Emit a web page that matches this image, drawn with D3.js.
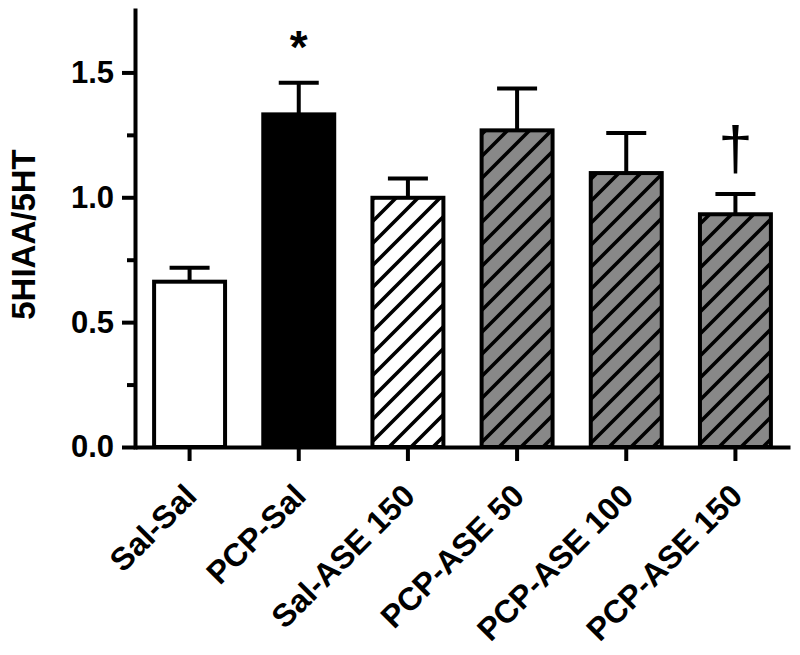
<!DOCTYPE html>
<html>
<head>
<meta charset="utf-8">
<script src="https://d3js.org/d3.v7.min.js"></script>
<style>
  body { margin: 0; background: #fff; }
  text { font-family: "Liberation Sans", Arial, sans-serif; font-weight: bold; }
</style>
</head>
<body>
<div class="svg-container"></div>
<script>
// data
const groups = ['Sal-Sal', 'PCP-Sal', 'Sal-ASE 150', 'PCP-ASE 50', 'PCP-ASE 100', 'PCP-ASE 150'];
const means = [0.662, 1.332, 0.998, 1.268, 1.097, 0.932];
const sems = [0.056, 0.127, 0.077, 0.168, 0.160, 0.081];
const fills = ['white', 'black', 'hatchWhite', 'hatchGray', 'hatchGray', 'hatchGray'];
const marks = ['', '*', '', '', '', '\u2020'];
const yTicks = [0, 0.5, 1.0, 1.5];
const yMinorTicks = [0.25, 0.75, 1.25];

const width = 800;
const height = 655;
const margin = { top: 10, right: 10, bottom: 208, left: 135 };

const svg = d3.select('.svg-container')
  .append('svg')
  .attr('width', width)
  .attr('height', height);

// hatch patterns
const defs = svg.append('defs');
[['hatchWhite', 'white'], ['hatchGray', '#888888']].forEach(([id, bg]) => {
  const p = defs.append('pattern')
    .attr('id', id)
    .attr('patternUnits', 'userSpaceOnUse')
    .attr('width', 22)
    .attr('height', 22);
  p.append('rect').attr('width', 22).attr('height', 22).attr('fill', bg);
  p.append('path')
    .attr('d', 'M-2,24L24,-2M-13,13L13,-13M9,35L35,9')
    .attr('stroke', 'black')
    .attr('stroke-width', 3.6);
});

const x = d3.scaleBand()
  .domain(groups)
  .range([margin.left, width - 10])
  .paddingInner(0.35)
  .paddingOuter(0.175);

const y = d3.scaleLinear()
  .domain([0, 1.75])
  .range([height - margin.bottom, margin.top]);

const rows = groups.map((g, i) => ({ g, mean: means[i], sem: sems[i], fill: fills[i], mark: marks[i] }));

// error bars (upper only), drawn before bars
const err = svg.append('g').selectAll('g')
  .data(rows)
  .enter()
  .append('g');

err.append('line')
  .attr('x1', d => x(d.g) + x.bandwidth() / 2)
  .attr('x2', d => x(d.g) + x.bandwidth() / 2)
  .attr('y1', d => y(d.mean))
  .attr('y2', d => y(d.mean + d.sem))
  .attr('stroke', 'black')
  .attr('stroke-width', 4);

err.append('line')
  .attr('x1', d => x(d.g) + x.bandwidth() / 2 - 20)
  .attr('x2', d => x(d.g) + x.bandwidth() / 2 + 20)
  .attr('y1', d => y(d.mean + d.sem))
  .attr('y2', d => y(d.mean + d.sem))
  .attr('stroke', 'black')
  .attr('stroke-width', 4);

// bars
svg.append('g').selectAll('rect')
  .data(rows)
  .enter()
  .append('rect')
  .attr('x', d => x(d.g))
  .attr('y', d => y(d.mean))
  .attr('width', x.bandwidth())
  .attr('height', d => y(0) - y(d.mean))
  .attr('fill', d => d.fill.startsWith('hatch') ? `url(#${d.fill})` : d.fill)
  .attr('stroke', 'black')
  .attr('stroke-width', 4);

// significance marks
svg.append('g').selectAll('text')
  .data(rows.filter(d => d.mark))
  .enter()
  .append('text')
  .attr('x', d => x(d.g) + x.bandwidth() / 2)
  .attr('y', d => d.mark === '*' ? y(d.mean + d.sem) - 20 : y(d.mean + d.sem) - 25)
  .attr('text-anchor', 'middle')
  .style('font-size', d => d.mark === '*' ? '46px' : '62px')
  .style('font-weight', d => d.mark === '*' ? 'bold' : 'normal')
  .text(d => d.mark);

// y axis
const yAxis = svg.append('g')
  .attr('transform', `translate(${margin.left},0)`)
  .call(d3.axisLeft(y).tickValues(yTicks).tickFormat(d3.format('.1f')).tickSize(13).tickSizeOuter(0).tickPadding(8));

svg.append('g')
  .attr('transform', `translate(${margin.left},0)`)
  .call(d3.axisLeft(y).tickValues(yMinorTicks).tickFormat('').tickSize(8).tickSizeOuter(0))
  .select('.domain').remove();

yAxis.selectAll('.tick text').style('font-size', '31px');

// x axis
const xAxis = svg.append('g')
  .attr('transform', `translate(0,${y(0)})`)
  .call(d3.axisBottom(x).tickSize(14).tickSizeOuter(0).tickPadding(4));

xAxis.selectAll('text')
  .attr('text-anchor', 'end')
  .attr('dx', '0')
  .attr('dy', '0')
  .attr('y', 0)
  .attr('x', 0)
  .attr('transform', 'translate(9,51) rotate(-45)')
  .style('font-size', '32px');

svg.selectAll('.domain, .tick line')
  .attr('stroke', 'black')
  .attr('stroke-width', 4);

svg.selectAll('.tick text').attr('fill', 'black');

yAxis.select('.domain').attr('stroke-linecap', 'square');

// y label
svg.append('text')
  .attr('transform', `translate(35,${(y(0) + y(1.75)) / 2 + 6}) rotate(-90)`)
  .attr('text-anchor', 'middle')
  .style('font-size', '33px')
  .text('5HIAA/5HT');
</script>
</body>
</html>
